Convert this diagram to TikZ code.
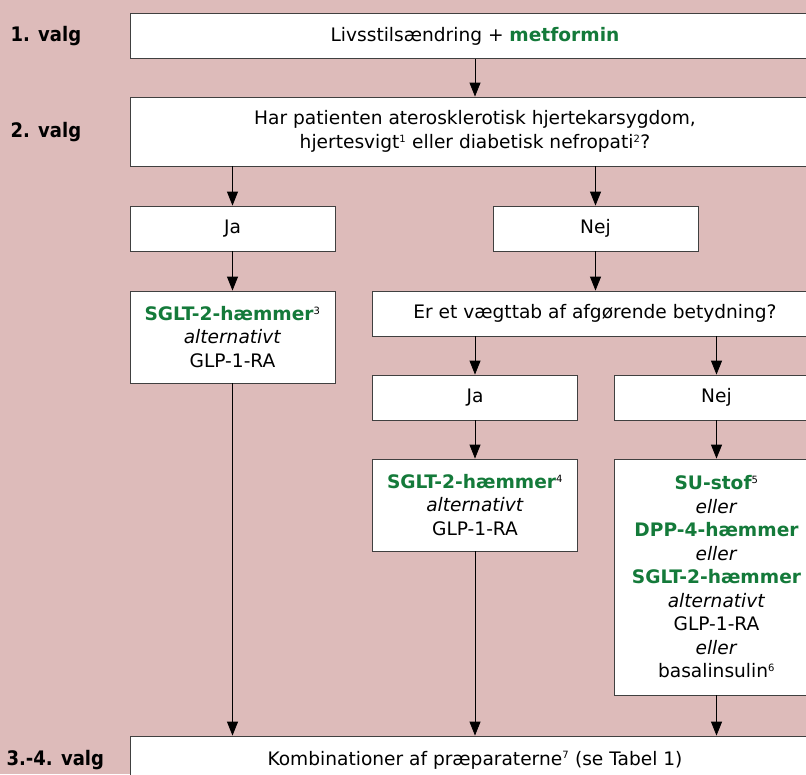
\documentclass[tikz,border=0pt]{standalone}
\usepackage{xcolor}
\usepackage{fontspec}
\setmainfont{DejaVu Sans}
\newfontfamily\valgfont{DejaVu Sans Condensed}
\usepackage{tikz}
\usetikzlibrary{positioning,arrows.meta}
\definecolor{bgpink}{RGB}{221,187,186}
\definecolor{druggreen}{RGB}{20,122,58}
\newcommand{\drug}[1]{{\color{druggreen}\bfseries #1}}
\newcommand{\fn}[1]{\textsuperscript{\fontsize{10}{10}\selectfont #1}}

\begin{document}
\begin{tikzpicture}[x=1pt,y=-1pt,font=\fontsize{18.6}{23.5}\selectfont,
 box/.style={draw=black!75,fill=white,align=center,inner sep=0pt,line width=0.8pt,minimum height=45pt},
 small/.style={box,minimum width=205pt},
 wide/.style={box,minimum width=690pt},
 ar/.style={-{Triangle[length=14pt,width=11pt]},line width=0.8pt},
 valg/.style={anchor=west,font=\valgfont\bfseries\fontsize{20}{22}\selectfont}]
\useasboundingbox (0,0) rectangle (806,774);
\fill[bgpink] (0,0) rectangle (806,774);
\clip (0,0) rectangle (806,774);
% venstre kolonne
\node[valg] (v1) at (7,36) {1. valg};
\node[valg] (v2) at (7,132) {2. valg};
\node[valg] (v3) at (3,760) {3.-4. valg};
% bokse
\node[wide] (livs) at (475,36) {Livsstilsændring + \drug{metformin}};
\node[wide,minimum height=69pt] (spg1) at (475,131.5)
 {Har patienten aterosklerotisk hjertekarsygdom,\\ hjertesvigt\fn{1} eller diabetisk nefropati\fn{2}?};
\node[small] (ja1) at (232.5,228.5) {Ja};
\node[small] (nej1) at (595.5,228.5) {Nej};
\node[small,minimum height=92pt] (sglt1) at (232.5,337)
 {\drug{SGLT-2-hæmmer}\fn{3}\\ \textit{alternativt}\\ GLP-1-RA};
\node[box,minimum width=446pt] (spg2) at (595,313.5) {Er et vægttab af afgørende betydning?};
\node[small] (ja2) at (475,397.5) {Ja};
\node[small] (nej2) at (716.5,397.5) {Nej};
\node[small,minimum height=92pt] (sglt2) at (475,505)
 {\drug{SGLT-2-hæmmer}\fn{4}\\ \textit{alternativt}\\ GLP-1-RA};
\node[small,minimum height=236pt] (su) at (716.5,577)
 {\drug{SU-stof}\fn{5}\\ \textit{eller}\\ \drug{DPP-4-hæmmer}\\ \textit{eller}\\ \drug{SGLT-2-hæmmer}\\
  \textit{alternativt}\\ GLP-1-RA\\ \textit{eller}\\ basalinsulin\fn{6}};
\node[wide,minimum height=48pt] (komb) at (475,760) {Kombinationer af præparaterne\fn{7} (se Tabel 1)};
% pile
\draw[ar] (livs) -- (spg1);
\draw[ar] (ja1 |- spg1.south) -- (ja1);
\draw[ar] (nej1 |- spg1.south) -- (nej1);
\draw[ar] (ja1) -- (sglt1);
\draw[ar] (nej1) -- (nej1 |- spg2.north);
\draw[ar] (ja2 |- spg2.south) -- (ja2);
\draw[ar] (nej2 |- spg2.south) -- (nej2);
\draw[ar] (ja2) -- (sglt2);
\draw[ar] (nej2) -- (su);
\draw[ar] (sglt1) -- (sglt1 |- komb.north);
\draw[ar] (sglt2) -- (sglt2 |- komb.north);
\draw[ar] (su) -- (su |- komb.north);
\end{tikzpicture}
\end{document}
